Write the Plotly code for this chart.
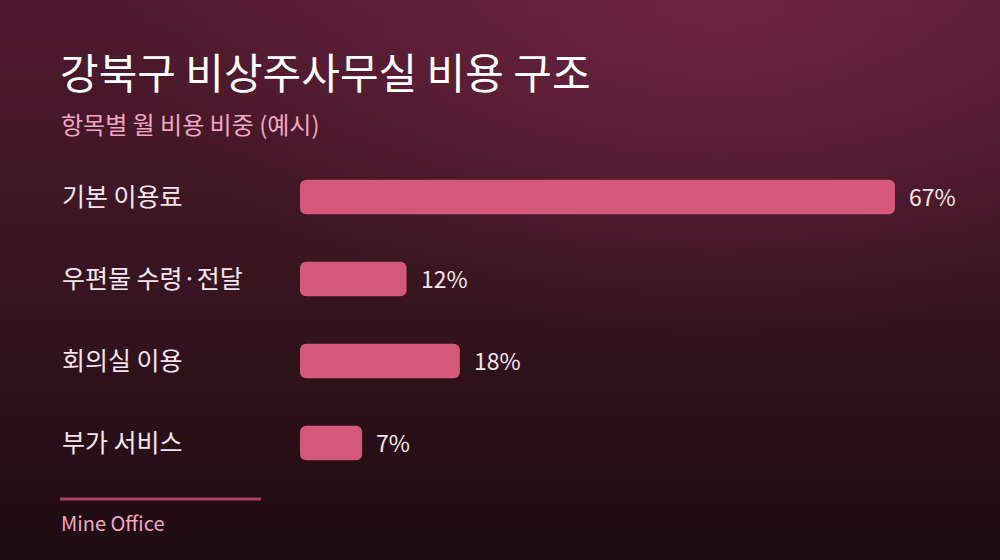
import base64
import plotly.graph_objects as go

# data
categories = ["기본 이용료", "우편물 수령·전달", "회의실 이용", "부가 서비스"]
shares = [67, 12, 18, 7]
value_labels = ["67%", "12%", "18%", "7%"]

title = "강북구 비상주사무실 비용 구조"
subtitle = "항목별 월 비용 비중 (예시)"
footer = "Mine Office"

W, H = 1000, 560
ML, MR, MT, MB = 300, 34, 156, 76
PW, PH = W - ML - MR, H - MT - MB
FONT = "Noto Sans CJK KR"
BAR = "#d4587a"


def px(x):
    return (x - ML) / PW


def py(y):
    return 1 - (y - MT) / PH


# background gradient as svg
svg = f"""<svg xmlns='http://www.w3.org/2000/svg' width='{W}' height='{H}'>
<defs>
<linearGradient id='g' x1='0' y1='0' x2='0' y2='1'>
<stop offset='0' stop-color='#501a2e'/>
<stop offset='0.45' stop-color='#3a1522'/>
<stop offset='1' stop-color='#1e0b12'/>
</linearGradient>
<radialGradient id='r' cx='0.72' cy='0' r='0.6'>
<stop offset='0' stop-color='#7a2848' stop-opacity='0.7'/>
<stop offset='1' stop-color='#7a2848' stop-opacity='0'/>
</radialGradient>
</defs>
<rect width='{W}' height='{H}' fill='url(#g)'/>
<rect width='{W}' height='{H}' fill='url(#r)'/>
</svg>"""
bg_src = "data:image/svg+xml;base64," + base64.b64encode(svg.encode()).decode()

# explicit base -> plotly rounds both ends of the bar
fig = go.Figure(go.Bar(
    x=shares, y=categories, base=[0] * len(shares), orientation="h", width=0.42,
    marker=dict(color=BAR, line=dict(width=0)), hoverinfo="skip",
))

annotations = []
for c in categories:
    annotations.append(dict(
        x=px(60), y=c, xref="paper", yref="y", text=c, showarrow=False,
        xanchor="left", yanchor="middle", yshift=2,
        font=dict(family=FONT, size=25, color="#f4e6ec"),
    ))
for c, v, t in zip(categories, shares, value_labels):
    annotations.append(dict(
        x=v, y=c, xref="x", yref="y", text=t, showarrow=False,
        xanchor="left", yanchor="middle", xshift=12, yshift=1,
        font=dict(family=FONT, size=23, color="#f4e6ec"),
    ))
annotations += [
    dict(x=px(58), y=py(71), xref="paper", yref="paper", text=title,
         showarrow=False, xanchor="left", yanchor="middle",
         font=dict(family=FONT, size=42, color="#ffffff")),
    dict(x=px(59), y=py(123), xref="paper", yref="paper", text=subtitle,
         showarrow=False, xanchor="left", yanchor="middle",
         font=dict(family=FONT, size=24, color="#f2a6c4")),
    dict(x=px(59), y=py(522), xref="paper", yref="paper", text=footer,
         showarrow=False, xanchor="left", yanchor="middle",
         font=dict(family=FONT, size=20, color="#f2a6c4")),
]

fig.update_layout(
    width=W, height=H,
    margin=dict(l=ML, r=MR, t=MT, b=MB),
    paper_bgcolor="#2a0f19",
    plot_bgcolor="rgba(0,0,0,0)",
    barcornerradius=6,
    showlegend=False,
    xaxis=dict(range=[0, 75], visible=False, fixedrange=True),
    yaxis=dict(autorange="reversed", visible=False, fixedrange=True),
    annotations=annotations,
    shapes=[dict(type="line", xref="paper", yref="paper",
                 x0=px(60), x1=px(261), y0=py(499), y1=py(499),
                 line=dict(color="#a8405f", width=3))],
    images=[dict(source=bg_src, xref="paper", yref="paper",
                 x=px(0), y=py(0), sizex=W / PW, sizey=H / PH,
                 xanchor="left", yanchor="top", sizing="stretch",
                 layer="below")],
)

fig.write_html(
    "out.html",
    config=dict(displayModeBar=False),
    post_script="document.body.style.margin='0';document.body.style.overflow='hidden';",
)
